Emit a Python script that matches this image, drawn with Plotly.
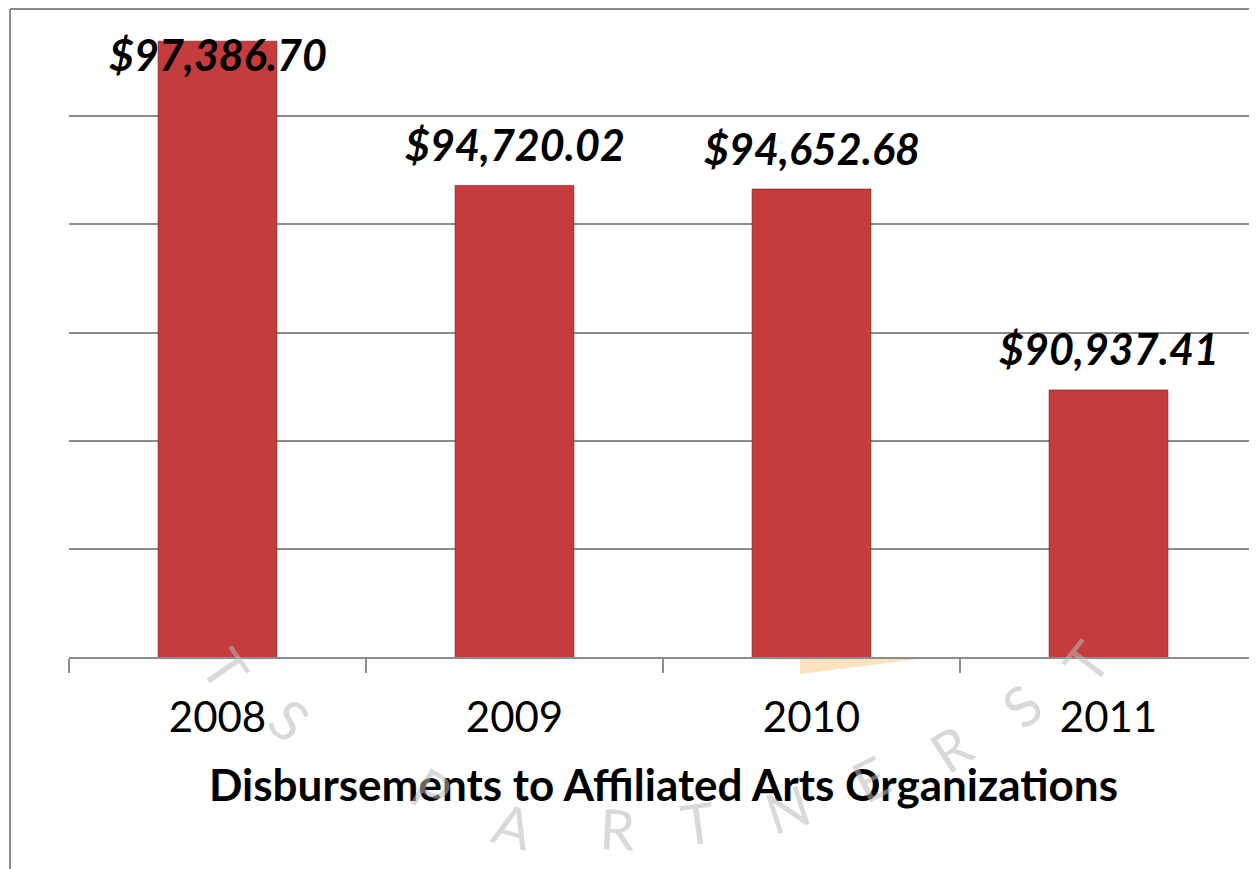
import plotly.graph_objects as go

# ---- data ----
years = ["2008", "2009", "2010", "2011"]
disbursements = [97386.70, 94720.02, 94652.68, 90937.41]
label_text = ["$97,386.70", "$94,720.02", "$94,652.68", "$90,937.41"]
chart_title = "Disbursements to Affiliated Arts Organizations"

# ---- layout geometry (screen pixels; page body adds an 8px offset) ----
O = 8
W, H = 1257 - O, 869 - O
PLOT_X0, PLOT_X1, PLOT_Y0, PLOT_Y1 = 69, 1257, 8, 657   # screen coords of plot area
L, R, T, B = PLOT_X0 - O, W - (PLOT_X1 - O), PLOT_Y0 - O, H - (PLOT_Y1 - O)
PW, PH = W - L - R, H - T - B


def px(x):
    return (x - PLOT_X0) / PW


def py(y):
    return (PLOT_Y1 - y) / PH


fig = go.Figure()
fig.add_trace(go.Bar(
    x=years, y=disbursements,
    marker=dict(color="#C43C3B", line=dict(color="rgba(110,25,25,0.6)", width=1)),
    width=0.4,
    hoverinfo="x+y",
))

# value labels (x given as category index)
label_shift = [-13, 41, 41, 41]
for i, (v, t, s) in enumerate(zip(disbursements, label_text, label_shift)):
    fig.add_annotation(x=i, y=v, text=t, showarrow=False, yanchor="middle",
                       yshift=s, font=dict(family="Lato", size=43, color="black",
                                           weight="bold", style="italic"))

# axis title
fig.add_annotation(xref="paper", yref="paper", x=0.5, y=py(784), text=chart_title,
                   showarrow=False, yanchor="middle", xanchor="center",
                   font=dict(family="Lato", size=44, color="black", weight="bold"))

# faint watermark letters
wm = [("T", 226, 668, 55), ("S", 290, 719, 40), ("P", 432, 790, 30), ("A", 513, 826, 15),
      ("R", 617, 828, 3), ("T", 698, 822, -8), ("N", 787, 808, -18), ("E", 870, 778, -27),
      ("R", 950, 748, -33), ("S", 1021, 705, -40), ("T", 1085, 662, -52)]
shapes = []
shapes.append(dict(type="path", xref="paper", yref="paper", layer="below",
                   path=f"M {px(800)} {py(656)} L {px(927)} {py(658)} L {px(800)} {py(674)} Z",
                   fillcolor="rgba(252,205,140,0.55)", line=dict(width=0)))
for ch, x, y, a in wm:
    fig.add_annotation(xref="paper", yref="paper", x=px(x), y=py(y), text=ch,
                       showarrow=False, textangle=a, xanchor="center", yanchor="middle",
                       font=dict(family="Lato", size=56, color="rgba(185,185,185,0.55)"))

# outer frame
shapes.append(dict(type="line", xref="paper", yref="paper", x0=px(10), x1=px(1300),
                   y0=py(9), y1=py(9), line=dict(color="#8C8C8C", width=2)))
shapes.append(dict(type="line", xref="paper", yref="paper", x0=px(10), x1=px(10),
                   y0=py(9), y1=py(900), line=dict(color="#8C8C8C", width=2)))

fig.update_layout(
    width=W, height=H,
    margin=dict(l=L, r=R, t=T, b=B, pad=0, autoexpand=False),
    paper_bgcolor="white", plot_bgcolor="white",
    showlegend=False,
    shapes=shapes,
    font=dict(family="Lato", color="black"),
)
fig.update_xaxes(
    type="category", range=[-0.5, 3.5], automargin=False,
    showline=True, linecolor="#8C8C8C", linewidth=2,
    ticks="outside", tickson="boundaries", ticklen=14, tickwidth=2, tickcolor="#8C8C8C",
    tickfont=dict(family="Lato", size=42, color="black"),
    tickangle=0, ticklabelstandoff=23,
    showgrid=False,
)
fig.update_yaxes(
    range=[86000, 98000], dtick=2000, automargin=False,
    showgrid=True, gridcolor="#8C8C8C", gridwidth=1.5,
    showticklabels=False, showline=False, zeroline=False, ticks="",
)

fig.write_html("out.html")
